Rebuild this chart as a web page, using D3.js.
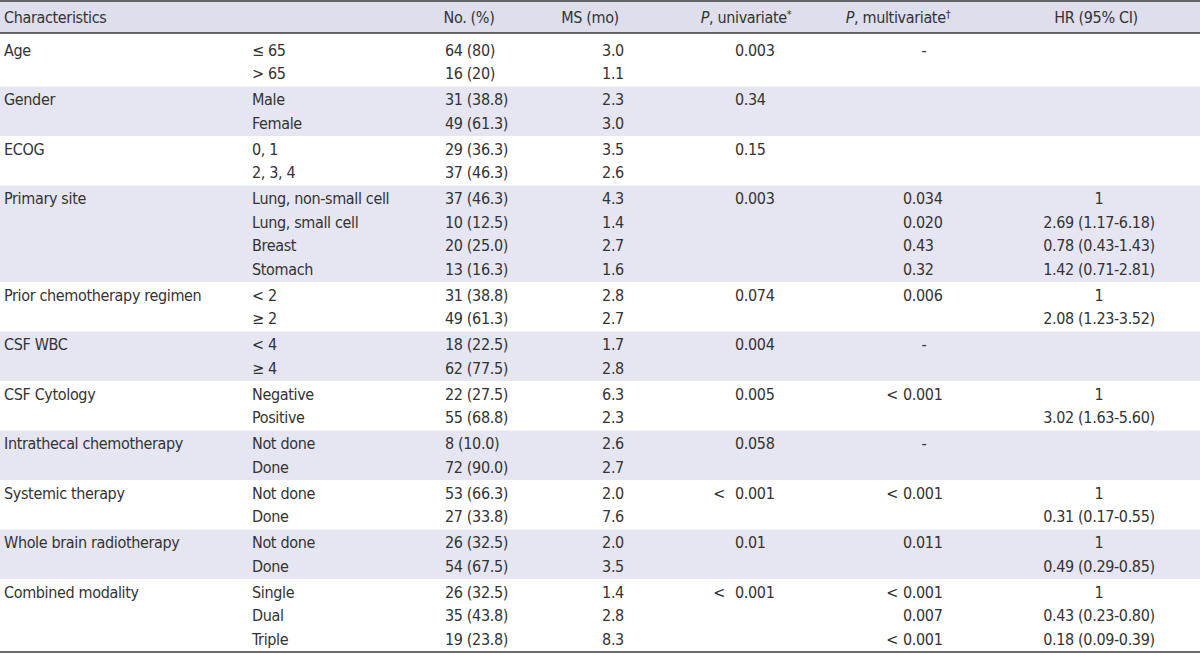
<!DOCTYPE html>
<html>
<head>
<meta charset="utf-8">
<script src="https://cdn.jsdelivr.net/npm/d3@7"></script>
<style>
  body { margin: 0; background: #fff; }
  svg text { font-family: "Liberation Sans Narrow", "DejaVu Sans Condensed", sans-serif; font-size: 16px; letter-spacing: -0.35px; fill: #333; }
</style>
</head>
<body>
<svg width="1200" height="655"></svg>
<script>
// Table content
const headers = ["Characteristics", "", "No. (%)", "MS (mo)", "P, univariate*", "P, multivariate\u2020", "HR (95% CI)"];
const characteristics = ["Age", "Gender", "ECOG", "Primary site", "Prior chemotherapy regimen", "CSF WBC",
  "CSF Cytology", "Intrathecal chemotherapy", "Systemic therapy", "Whole brain radiotherapy", "Combined modality"];
const subgroups = [
  ["\u2264 65", "> 65"],
  ["Male", "Female"],
  ["0, 1", "2, 3, 4"],
  ["Lung, non-small cell", "Lung, small cell", "Breast", "Stomach"],
  ["< 2", "\u2265 2"],
  ["< 4", "\u2265 4"],
  ["Negative", "Positive"],
  ["Not done", "Done"],
  ["Not done", "Done"],
  ["Not done", "Done"],
  ["Single", "Dual", "Triple"]
];
const counts = [
  ["64 (80)", "16 (20)"],
  ["31 (38.8)", "49 (61.3)"],
  ["29 (36.3)", "37 (46.3)"],
  ["37 (46.3)", "10 (12.5)", "20 (25.0)", "13 (16.3)"],
  ["31 (38.8)", "49 (61.3)"],
  ["18 (22.5)", "62 (77.5)"],
  ["22 (27.5)", "55 (68.8)"],
  ["8 (10.0)", "72 (90.0)"],
  ["53 (66.3)", "27 (33.8)"],
  ["26 (32.5)", "54 (67.5)"],
  ["26 (32.5)", "35 (43.8)", "19 (23.8)"]
];
const medianSurvival = [
  ["3.0", "1.1"],
  ["2.3", "3.0"],
  ["3.5", "2.6"],
  ["4.3", "1.4", "2.7", "1.6"],
  ["2.8", "2.7"],
  ["1.7", "2.8"],
  ["6.3", "2.3"],
  ["2.6", "2.7"],
  ["2.0", "7.6"],
  ["2.0", "3.5"],
  ["1.4", "2.8", "8.3"]
];
const pUnivariate = [["0.003"], ["0.34"], ["0.15"], ["0.003"], ["0.074"], ["0.004"], ["0.005"], ["0.058"],
  ["<  0.001"], ["0.01"], ["<  0.001"]];
const pMultivariate = [
  ["-"], [], [],
  ["0.034", "0.020", "0.43", "0.32"],
  ["0.006"], ["-"], ["< 0.001"], ["-"], ["< 0.001"], ["0.011"],
  ["< 0.001", "0.007", "< 0.001"]
];
const hazardRatios = [
  [], [], [],
  ["1", "2.69 (1.17-6.18)", "0.78 (0.43-1.43)", "1.42 (0.71-2.81)"],
  ["1", "2.08 (1.23-3.52)"],
  [], ["1", "3.02 (1.63-5.60)"], [],
  ["1", "0.31 (0.17-0.55)"],
  ["1", "0.49 (0.29-0.85)"],
  ["1", "0.43 (0.23-0.80)", "0.18 (0.09-0.39)"]
];

const W = 1200, headerH = 33, bodyTop = 37, bodyBottom = 652;
const bandColor = "#e6e6f2", headerColor = "#dedeed", ruleColor = "#3a3a3a";
const padFrac = 0.106; // spacing between groups, in line units

// Build one record per group with its starting line index
let lineIdx = 0;
const groups = characteristics.map((name, g) => {
  const n = subgroups[g].length;
  const rec = { g, name, n, start: lineIdx };
  lineIdx += n;
  return rec;
});
const totalSlots = lineIdx + groups.length * padFrac;

const y = d3.scaleLinear().domain([0, totalSlots]).range([bodyTop, bodyBottom]);
const slotTop = d => d.start + d.g * padFrac;
const lineY = (d, i) => y(d.start + d.g * padFrac + padFrac / 2 + i + 0.5);

// Columns: x position and anchor
const cols = {
  name: { x: 4, anchor: "start" },
  sub: { x: 252, anchor: "start" },
  count: { x: 445, anchor: "start" },
  ms: { x: 613, anchor: "middle" },
  puni: { x: 735, anchor: "start", hang: true },
  pmulti: { x: 903, anchor: "start", hang: true, dashX: 924 },
  hr: { x: 1099, anchor: "middle" }
};
const headerX = [
  { x: 4, anchor: "start" }, null,
  { x: 469, anchor: "middle" },
  { x: 590, anchor: "middle" },
  { x: 746, anchor: "middle" },
  { x: 898, anchor: "middle" },
  { x: 1096, anchor: "middle" }
];

const svg = d3.select("svg");

// Header background and banded groups
svg.append("rect").attr("x", 0).attr("y", 0).attr("width", W).attr("height", headerH).attr("fill", headerColor);
svg.selectAll("rect.band")
  .data(groups.filter(d => d.g % 2 === 1))
  .enter().append("rect")
  .attr("class", "band")
  .attr("x", 0)
  .attr("y", d => y(slotTop(d)))
  .attr("width", W)
  .attr("height", d => y(slotTop(d) + d.n + padFrac) - y(slotTop(d)))
  .attr("fill", bandColor);

// Rules
[1, headerH, bodyBottom].forEach(yy => {
  svg.append("line").attr("x1", 0).attr("x2", W).attr("y1", yy).attr("y2", yy)
    .attr("stroke", ruleColor).attr("stroke-width", 1.5);
});

// Header text
headers.forEach((h, i) => {
  if (!headerX[i]) return;
  const t = svg.append("text")
    .attr("x", headerX[i].x).attr("y", headerH / 2 + 1)
    .attr("dy", "0.35em").attr("text-anchor", headerX[i].anchor);
  if (h.startsWith("P,")) {
    t.append("tspan").attr("font-style", "italic").text("P");
    t.append("tspan").text(h.slice(1, -1));
    t.append("tspan").attr("font-size", "11px").attr("dy", "-0.45em").text(h.slice(-1));
  } else {
    t.text(h);
  }
});

const body = svg.append("g");

// Characteristic names
body.selectAll("text.name")
  .data(groups).enter().append("text")
  .attr("class", "name")
  .attr("x", cols.name.x).attr("y", d => lineY(d, 0)).attr("dy", "0.35em")
  .text(d => d.name);

// Columns with one value per line
function drawColumn(values, col, cls) {
  const cells = [];
  groups.forEach(d => values[d.g].forEach((v, i) => cells.push({ v, yy: lineY(d, i) })));
  const sel = body.selectAll("text." + cls).data(cells).enter().append("text")
    .attr("class", cls)
    .attr("y", c => c.yy).attr("dy", "0.35em");
  sel.each(function (c) {
    const t = d3.select(this);
    if (c.v === "-" && col.dashX) {
      t.attr("x", col.dashX).attr("text-anchor", "middle").text(c.v);
    } else if (col.hang && c.v.startsWith("<")) {
      // number aligned with others, "<" hangs to the left
      const num = c.v.replace(/^<\s*/, "");
      const gap = c.v.indexOf("  ") > -1 ? 10 : 5;
      t.attr("x", col.x).attr("text-anchor", col.anchor).text(num);
      d3.select(this.parentNode).append("text")
        .attr("x", col.x - gap).attr("y", c.yy).attr("dy", "0.35em")
        .attr("text-anchor", "end").text("<");
    } else {
      t.attr("x", col.x).attr("text-anchor", col.anchor).text(c.v);
    }
  });
}

drawColumn(subgroups, cols.sub, "sub");
drawColumn(counts, cols.count, "count");
drawColumn(medianSurvival, cols.ms, "ms");
drawColumn(pUnivariate, cols.puni, "puni");
drawColumn(pMultivariate, cols.pmulti, "pmulti");
drawColumn(hazardRatios, cols.hr, "hr");
</script>
</body>
</html>
